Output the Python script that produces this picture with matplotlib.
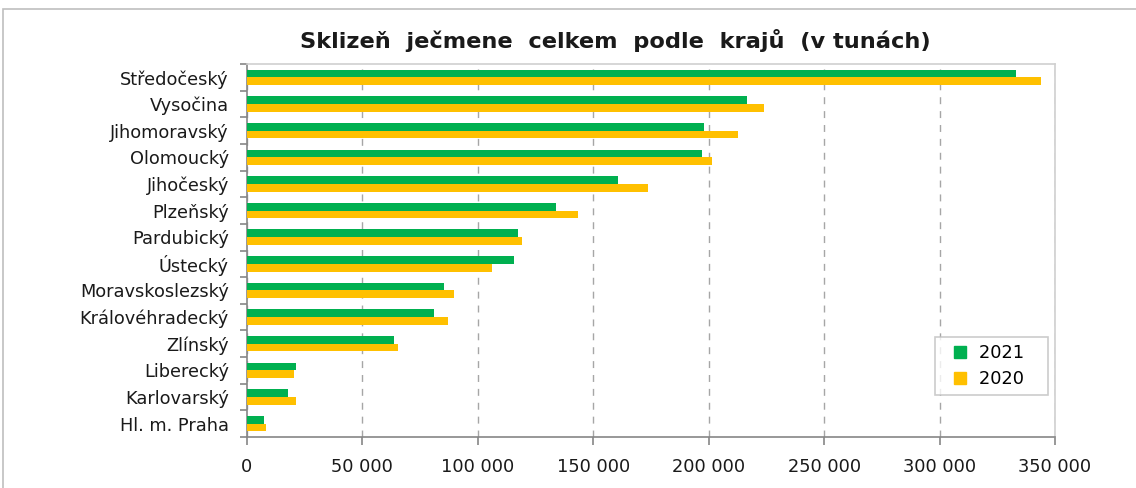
import numpy as np
import matplotlib
matplotlib.use('Agg')
import matplotlib.pyplot as plt
from matplotlib.patches import Rectangle
from matplotlib.lines import Line2D
from matplotlib.ticker import FuncFormatter, FixedLocator

regions = ['Středočeský', 'Vysočina', 'Jihomoravský', 'Olomoucký', 'Jihočeský',
           'Plzeňský', 'Pardubický', 'Ústecký', 'Moravskoslezský', 'Královéhradecký',
           'Zlínský', 'Liberecký', 'Karlovarský', 'Hl. m. Praha']
harvest_2021 = [333300, 216400, 198100, 197200, 160800, 133800, 117500, 115800,
                85300, 81100, 63800, 21400, 17900, 7500]
harvest_2020 = [343900, 224100, 212900, 201500, 173800, 143500, 119200, 106200,
                89600, 87200, 65500, 20400, 21400, 8400]

plt.rcParams['font.family'] = ['DejaVu Sans']

fig = plt.figure(figsize=(11.36, 4.88), dpi=100)
# outer chart frame
fig.patches.append(Rectangle((3 / 1136, -0.05), 1.2, 1 - 9 / 488 + 0.05,
                             transform=fig.transFigure, fill=False,
                             edgecolor='#BFBFBF', lw=1.2))

ax = fig.add_axes([247 / 1136, 1 - 437 / 488, (1055 - 247) / 1136, (437 - 64) / 488])

y = np.arange(len(regions))
h = 0.29
ax.barh(y - h / 2, harvest_2021, height=h, color='#00B050', label='2021', zorder=3)
ax.barh(y + h / 2, harvest_2020, height=h, color='#FFC000', label='2020', zorder=3)

ax.set_ylim(len(regions) - 0.5, -0.5)
ax.set_xlim(0, 350000)
ax.set_yticks(y)
ax.set_yticklabels(regions, fontsize=12.8, color='#1a1a1a')
ax.yaxis.set_minor_locator(FixedLocator(np.arange(-0.5, len(regions), 1)))
ax.tick_params(axis='y', which='major', length=0, pad=13)
ax.tick_params(axis='y', which='minor', length=5, color='#868686', width=1.2)

ax.set_xticks(np.arange(0, 350001, 50000))
ax.xaxis.set_major_formatter(FuncFormatter(lambda v, p: '{:,.0f}'.format(v).replace(',', ' ')))
ax.tick_params(axis='x', length=6, color='#868686', width=1.2, labelsize=12.8,
               labelcolor='#1a1a1a', pad=9)

ax.grid(axis='x', color='#A6A6A6', ls=(0, (5, 5)), lw=1, zorder=0)
for s in ['left', 'bottom']:
    ax.spines[s].set_color('#868686')
    ax.spines[s].set_linewidth(1.2)
for s in ['top', 'right']:
    ax.spines[s].set_color('#D0D0D0')
    ax.spines[s].set_linewidth(1.2)

handles = [Line2D([], [], ls='none', marker='s', markersize=8, color='#00B050'),
           Line2D([], [], ls='none', marker='s', markersize=8, color='#FFC000')]
leg = ax.legend(handles, ['2021   ', '2020   '], loc='lower right',
                bbox_to_anchor=(0.9915, 0.112), fontsize=12.8,
                frameon=True, fancybox=False, handlelength=2.0,
                handletextpad=0.05, borderpad=0.4, labelspacing=0.45,
                borderaxespad=0)
leg.get_frame().set_edgecolor('#BFBFBF')
leg.get_frame().set_linewidth(1.2)

fig.text(615 / 1136, 1 - 40 / 488, 'Sklizeň  ječmene  celkem  podle  krajů  (v tunách)',
         ha='center', va='center', fontsize=16.2, fontweight='bold', color='#1a1a1a')

fig.savefig('out.png', dpi=100)
